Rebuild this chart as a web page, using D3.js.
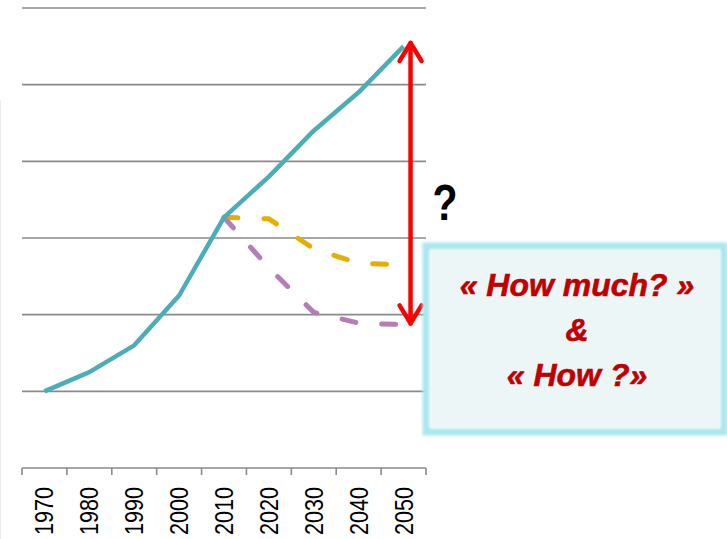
<!DOCTYPE html>
<html><head><meta charset="utf-8">
<script src="https://cdn.jsdelivr.net/npm/d3@7"></script>
<style>html,body{margin:0;padding:0;background:#fff;}svg{display:block;}</style>
</head><body>
<svg id="c" width="727" height="539"></svg>
<script>
const years = ["1970","1980","1990","2000","2010","2020","2030","2040","2050"];
const historic = [1.0, 1.25, 1.6, 2.25, 3.27, 3.8, 4.4, 4.9, 5.5];
const scenarioA = [null, null, null, null, 3.27, 3.25, 2.86, 2.67, 2.65];
const scenarioB = [null, null, null, null, 3.27, 2.61, 2.03, 1.89, 1.87];
const gridValues = [0, 1, 2, 3, 4, 5, 6];
const arrowRange = [5.57, 1.86];
const boxLines = ["« How much? »", "&", "« How ?»"];

const svg = d3.select("#c");
const x = d3.scaleBand().domain(years).range([22, 426]).padding(0);
const y = d3.scaleLinear().domain([0, 6]).range([468, 8]);
const cx = d => x(d) + x.bandwidth() / 2;

// faint left border
svg.append("line").attr("x1", 0.5).attr("x2", 0.5).attr("y1", 100).attr("y2", 539)
  .attr("stroke", "#ececec").attr("stroke-width", 1);

// gridlines
svg.append("g").selectAll("line").data(gridValues).join("line")
  .attr("x1", 22).attr("x2", 426)
  .attr("y1", d => y(d)).attr("y2", d => y(d))
  .attr("stroke", "#8a8a8a").attr("stroke-width", 1.6);

// x axis
const ax = svg.append("g").attr("transform", `translate(0,${y(0)})`)
  .call(d3.axisBottom(x).tickSize(0).tickPadding(0));
ax.select(".domain").remove();
ax.selectAll(".tick text")
  .attr("transform", "rotate(-90)")
  .attr("x", -19).attr("y", 0).attr("dy", "0.36em")
  .attr("text-anchor", "end")
  .attr("font-family", "Liberation Sans, Arial, sans-serif")
  .attr("font-size", 25)
  .attr("fill", "#000")
  .attr("textLength", 48).attr("lengthAdjust", "spacingAndGlyphs");
const bounds = years.map(d => x(d)).concat([x.range()[1]]);
svg.append("g").selectAll("line").data(bounds).join("line")
  .attr("x1", d => d).attr("x2", d => d)
  .attr("y1", y(0)).attr("y2", y(0) + 7)
  .attr("stroke", "#8a8a8a").attr("stroke-width", 1.6);

// lines
const line = d3.line().defined(d => d.v != null).x(d => cx(d.k)).y(d => y(d.v));
const mk = arr => years.map((k, i) => ({k, v: arr[i]}));
svg.append("path").datum(mk(scenarioA)).attr("d", line)
  .attr("fill", "none").attr("stroke", "#E4AF00").attr("stroke-width", 5)
  .attr("stroke-linecap", "round").attr("stroke-linejoin", "round")
  .attr("stroke-dasharray", "14,26");
svg.append("path").datum(mk(scenarioB)).attr("d", line)
  .attr("fill", "none").attr("stroke", "#B67CB8").attr("stroke-width", 5)
  .attr("stroke-linecap", "round").attr("stroke-linejoin", "round")
  .attr("stroke-dasharray", "14,26");
svg.append("path").datum(mk(historic)).attr("d", line)
  .attr("fill", "none").attr("stroke", "#4BADB7").attr("stroke-width", 4.5)
  .attr("stroke-linejoin", "round");

// red double arrow
const axX = cx("2050") + 7;
const yT = y(arrowRange[0]), yB = y(arrowRange[1]);
const red = svg.append("g").attr("stroke", "#FF0000").attr("stroke-width", 4.5)
  .attr("fill", "none").attr("stroke-linecap", "round").attr("stroke-linejoin", "round");
red.append("line").attr("x1", axX).attr("x2", axX).attr("y1", yT + 2).attr("y2", yB - 2);
red.append("path").attr("d", `M${axX-11},${yT+20} L${axX},${yT+2} L${axX+11},${yT+20}`);
red.append("path").attr("d", `M${axX-11},${yB-20} L${axX},${yB-2} L${axX+11},${yB-20}`);

// question mark
svg.append("text").attr("transform", "translate(445,220) scale(0.82,1)")
  .attr("text-anchor", "middle")
  .attr("font-family", "Liberation Sans, Arial, sans-serif")
  .attr("font-weight", "bold").attr("font-size", 50).attr("fill", "#000").text("?");

// box with glow
const defs = svg.append("defs");
const f = defs.append("filter").attr("id", "glow").attr("x", "-10%").attr("y", "-10%")
  .attr("width", "120%").attr("height", "120%");
f.append("feGaussianBlur").attr("stdDeviation", 1.5);
svg.append("rect").attr("x", 426).attr("y", 246).attr("width", 298).attr("height", 186)
  .attr("fill", "none").attr("stroke", "#A9E7EE").attr("stroke-width", 7)
  .attr("filter", "url(#glow)");
svg.append("rect").attr("x", 430).attr("y", 250).attr("width", 290).attr("height", 178)
  .attr("fill", "#EDF6F7");
svg.append("g").selectAll("text").data(boxLines).join("text")
  .attr("x", 577).attr("y", (d, i) => 296 + i * 45)
  .attr("text-anchor", "middle")
  .attr("font-family", "Liberation Sans, Arial, sans-serif")
  .attr("font-weight", "bold").attr("font-style", "italic")
  .attr("font-size", 32).attr("fill", "#C00000")
  .attr("stroke", "#C00000").attr("stroke-width", 0.6)
  .text(d => d);
</script>
</body></html>
